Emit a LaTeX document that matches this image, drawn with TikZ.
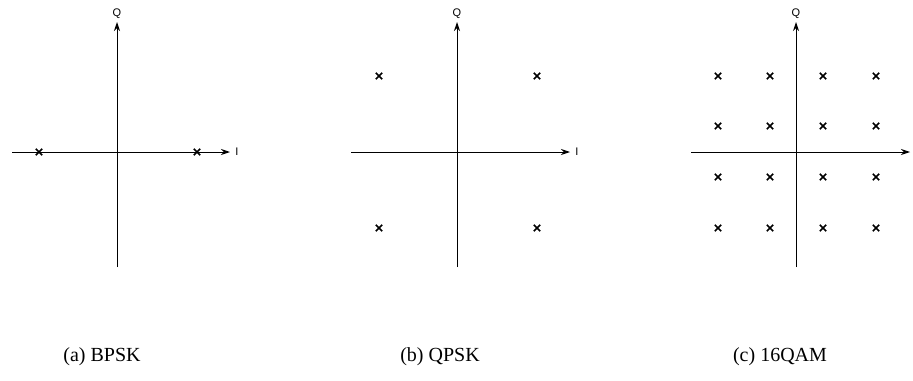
\documentclass[tikz,border=0pt]{standalone}
\usepackage{fontspec}
\setmainfont{Liberation Serif}
\newfontfamily\axisfont{Liberation Sans}
\usetikzlibrary{arrows.meta,shapes.misc}

\begin{document}
\begin{tikzpicture}[
  x=0.5pt, y=-0.5pt,
  axis/.style={draw=black, line width=0.5pt},
  axisarrow/.style={axis, -{Stealth[length=4.5pt, width=3pt]}},
  axlabel/.style={font=\axisfont\fontsize{5.5}{6.5}\selectfont, inner sep=0pt},
  sym/.style={cross out, draw=black, line width=0.8pt,
    minimum size=2.4pt, inner sep=0pt},
  caption/.style={font=\fontsize{10}{12}\selectfont, inner sep=0pt},
]
\useasboundingbox (0,0) rectangle (913,380);

% === (a) BPSK ===
\coordinate (aW) at (12,152);
\coordinate (aE) at (230,152);
\coordinate (aS) at (117,267);
\coordinate (aN) at (117,22);
\draw[axisarrow] (aW) -- (aE);
\draw[axisarrow] (aS) -- (aN);
\node[axlabel] (aQ) at (117,14) {Q};
\node[axlabel, anchor=west] (aI) at (235,152) {I};
\node[sym] (a1) at (39,152) {};
\node[sym] (a2) at (197,152) {};
\node[caption] (capa) at (102,357) {(a) BPSK};

% === (b) QPSK ===
\coordinate (bW) at (351,152);
\coordinate (bE) at (570,152);
\coordinate (bS) at (457,267);
\coordinate (bN) at (457,22);
\draw[axisarrow] (bW) -- (bE);
\draw[axisarrow] (bS) -- (bN);
\node[axlabel] (bQ) at (457,14) {Q};
\node[axlabel, anchor=west] (bI) at (575,152) {I};
\foreach \px in {379,537} {
  \foreach \py in {76,228} {
    \node[sym] (b-\px-\py) at (\px,\py) {};
  }
}
\node[caption] (capb) at (440,357) {(b) QPSK};

% === (c) 16QAM ===
\coordinate (cW) at (691,152);
\coordinate (cE) at (910,152);
\coordinate (cS) at (796,267);
\coordinate (cN) at (796,22);
\draw[axisarrow] (cW) -- (cE);
\draw[axisarrow] (cS) -- (cN);
\node[axlabel] (cQ) at (796,14) {Q};
\foreach \px in {718,770,823,876} {
  \foreach \py in {76,126,177,228} {
    \node[sym] (c-\px-\py) at (\px,\py) {};
  }
}
\node[caption] (capc) at (780,357) {(c) 16QAM};

\end{tikzpicture}
\end{document}
